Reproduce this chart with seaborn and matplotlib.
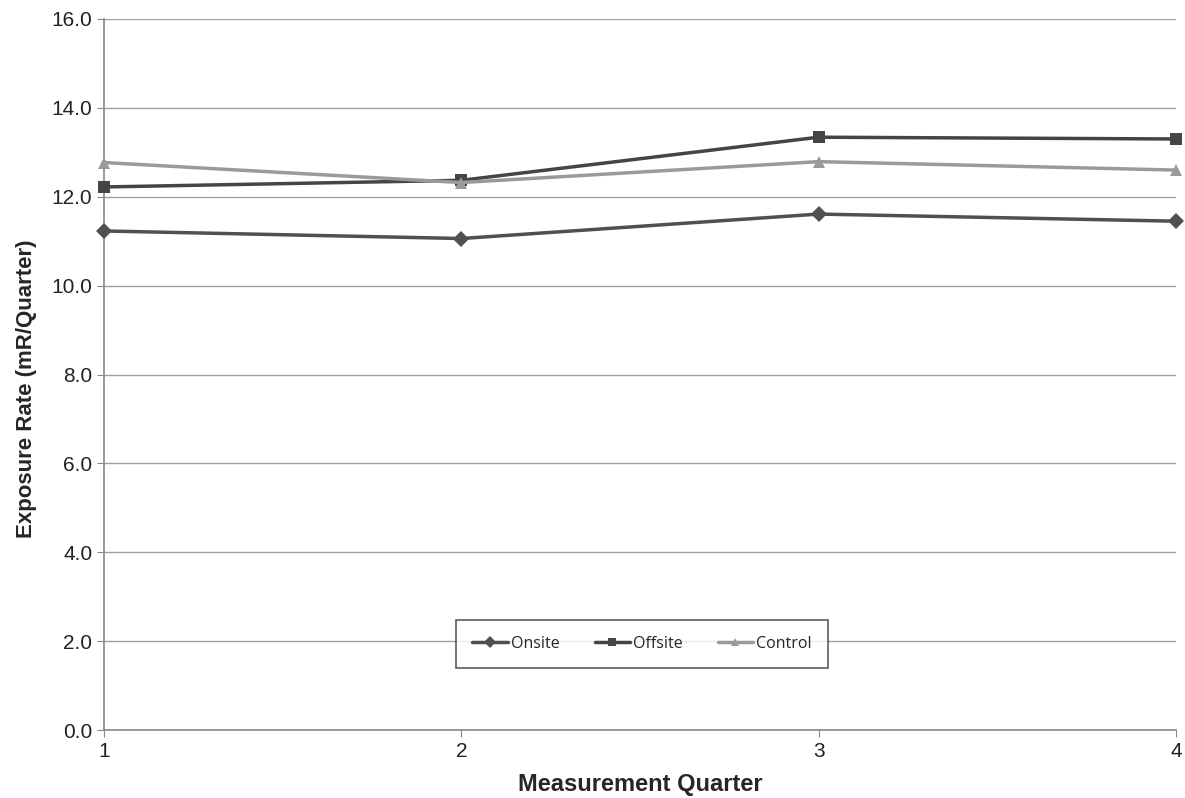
import numpy as np
import pandas as pd
import matplotlib.pyplot as plt
import seaborn as sns

quarters = [1, 2, 3, 4]
onsite = [11.23, 11.06, 11.61, 11.45]
offsite = [12.22, 12.37, 13.34, 13.30]
control = [12.77, 12.32, 12.79, 12.60]
series_names = ["Onsite", "Offsite", "Control"]

df = pd.DataFrame({
    "Quarter": quarters * 3,
    "Rate": onsite + offsite + control,
    "Series": np.repeat(series_names, len(quarters)),
})

sns.set_style("white")
plt.rcParams["font.family"] = ["Liberation Sans", "DejaVu Sans"]

fig = plt.figure(figsize=(11.85, 7.98), dpi=100)
ax = fig.add_axes([0.0878, 0.0852, 0.9046, 0.891])

palette = {"Onsite": "#505050", "Offsite": "#454545", "Control": "#9a9a9a"}
markers = {"Onsite": "D", "Offsite": "s", "Control": "^"}

sns.lineplot(data=df, x="Quarter", y="Rate", hue="Series", style="Series",
             palette=palette, markers=markers, dashes=False, linewidth=2.5,
             markersize=8.5, markeredgewidth=0, ax=ax, zorder=3)
for line in ax.lines:
    line.set_clip_on(False)

ax.set_xlim(1, 4)
ax.set_ylim(0, 16)
ax.set_xticks(quarters)
ax.set_yticks(np.arange(0, 16.1, 2))
ax.set_yticklabels([f"{v:.1f}" for v in np.arange(0, 16.1, 2)])
ax.yaxis.grid(True, color="#a0a0a0", linewidth=1)
ax.set_axisbelow(True)
for s in ["top", "right"]:
    ax.spines[s].set_visible(False)
for s in ["left", "bottom"]:
    ax.spines[s].set_color("#888888")
    ax.spines[s].set_linewidth(1.2)
ax.tick_params(axis="both", labelsize=15, colors="#222222", length=5,
               color="#888888", direction="out")
ax.tick_params(axis="both", left=True, bottom=True)

ax.set_xlabel("Measurement Quarter", fontsize=17, fontweight="bold", labelpad=9)
ax.set_ylabel("Exposure Rate (mR/Quarter)", fontsize=16, fontweight="bold")
ax.yaxis.set_label_coords(-0.063, 0.48)

leg = ax.legend(loc="center", bbox_to_anchor=(0.502, 0.121), ncol=3,
                frameon=True, fancybox=False, edgecolor="#333333",
                prop={"family": "Open Sans", "size": 11.5},
                handlelength=2.2, columnspacing=2.2, borderpad=1.0,
                handletextpad=0.2, markerscale=0.75)
leg.get_frame().set_linewidth(1.2)
leg.set_title(None)

fig.savefig("out.png", dpi=100, facecolor="white")
